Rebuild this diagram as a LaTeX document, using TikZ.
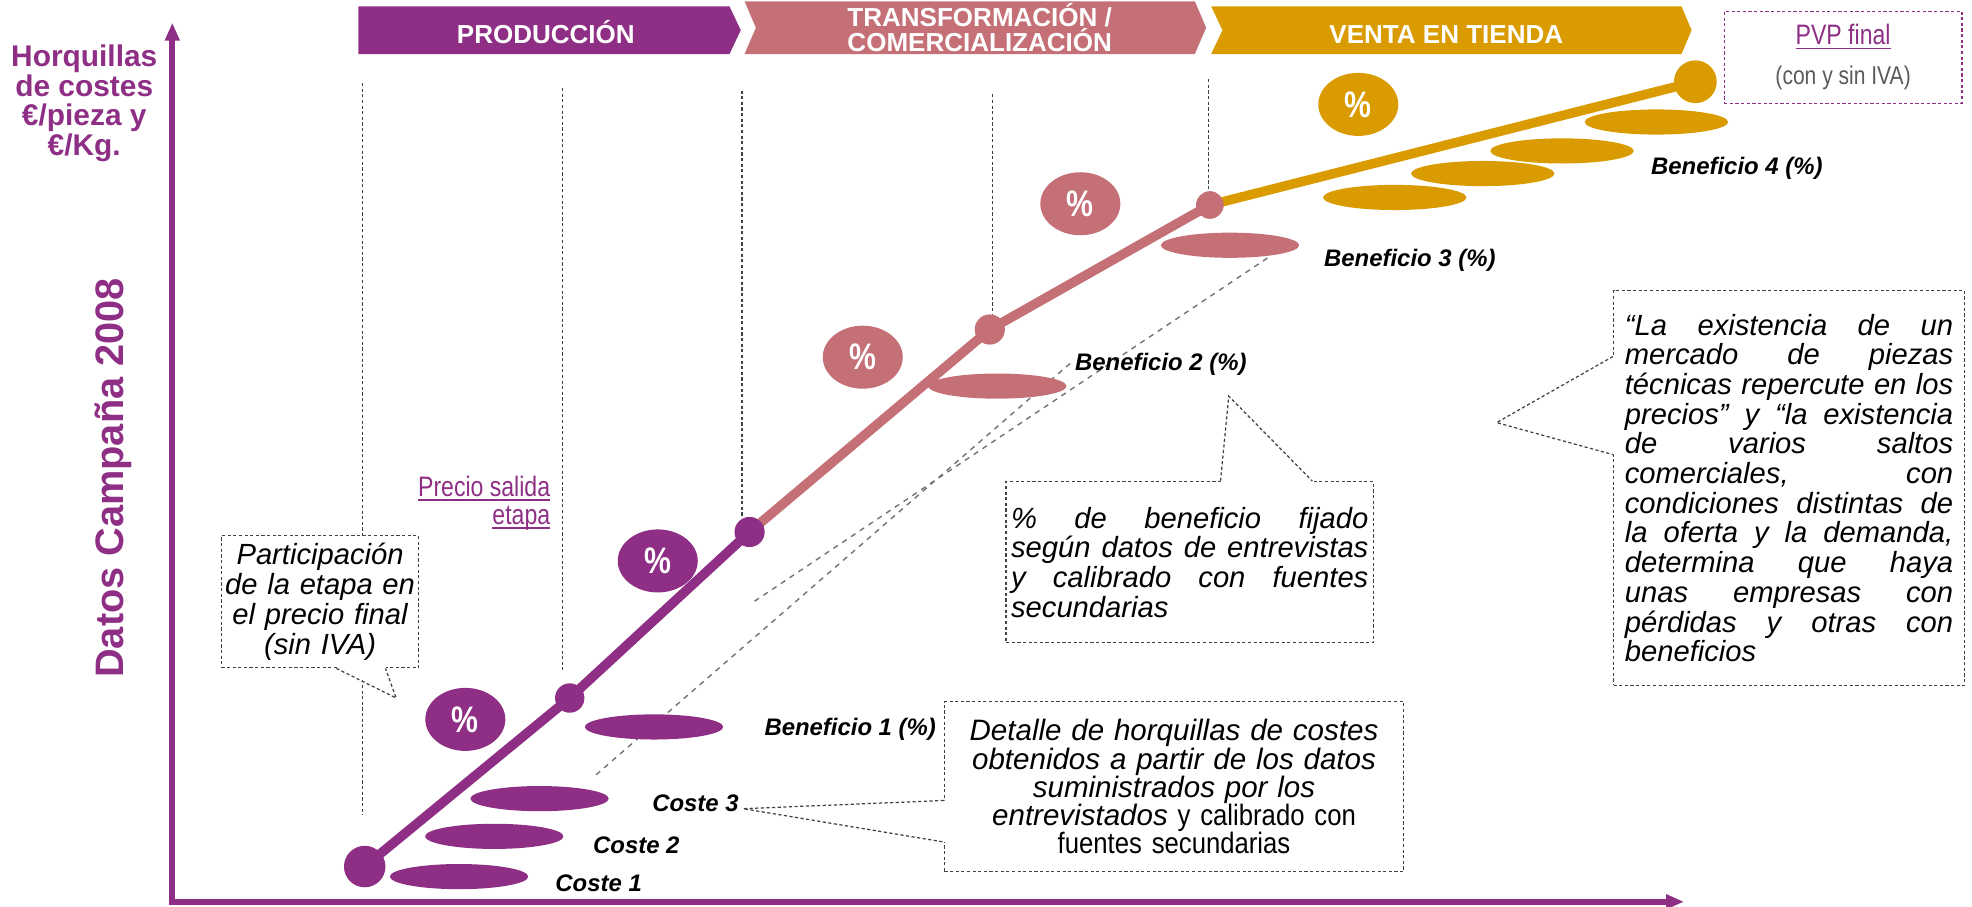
\documentclass[tikz,border=0pt]{standalone}
\usepackage{fontspec}
\setmainfont{Liberation Sans}
\newfontfamily\narrowfont[FakeStretch=0.82]{Liberation Sans}
\newfontfamily\semifont[FakeStretch=0.87]{Liberation Sans}
\usetikzlibrary{shapes.geometric,arrows.meta,calc}
\definecolor{purp}{HTML}{8E2F85}
\definecolor{rose}{HTML}{C47076}
\definecolor{gold}{HTML}{DA9B00}
\definecolor{txtgray}{HTML}{5A5A5A}
\newcommand{\undl}[1]{\setbox0\hbox{#1}\rlap{\rule[-1.3pt]{\wd0}{0.5pt}}\box0}

\begin{document}
\begin{tikzpicture}[x=0.012577cm, y=-0.012577cm,
    guide/.style={draw=black!75, dash pattern=on 0.9pt off 0.7pt, line width=0.35pt},
    trend/.style={draw=black!55, dash pattern=on 1.5pt off 1.5pt, line width=0.4pt},
    stage/.style={line width=2.7pt, line join=round},
    bar/.style={x radius=55, y radius=10},
    goldbar/.style={x radius=57, y radius=10},
    pct/.style={ellipse, minimum width=0.80cm, minimum height=0.63cm, inner sep=0pt, text=white, font=\narrowfont\bfseries\fontsize{10.5}{11}\selectfont},
    lbl/.style={inner sep=0pt, font=\bfseries\itshape\fontsize{6.8}{8}\selectfont},
    callout/.style={guide, fill=white, inner ysep=0pt, font=\itshape\fontsize{8.3}{8.45}\selectfont},
    stagetxt/.style={text=white, inner sep=0pt, align=center, font=\bfseries\fontsize{7.4}{7}\selectfont},
    axisline/.style={draw=purp, line width=1.7pt, {Triangle[length=0.18cm,width=0.14cm]}-{Triangle[length=0.18cm,width=0.14cm]}}
  ]
    \useasboundingbox (0,0) rectangle (1568,721);

    \foreach \gx/\gtop/\gbot in {288/66/648, 447/70/533, 590/72/410, 789/75/252, 961/63/152}
      \draw[guide] (\gx,\gtop) -- (\gx,\gbot);

    \coordinate (trendA0) at (474,616);
    \coordinate (trendA1) at (852,288);
    \coordinate (trendB0) at (600,478);
    \coordinate (trendB1) at (1011,203);
    \draw[trend] (trendA0) -- (trendA1);
    \draw[trend] (trendB0) -- (trendB1);

    \fill[purp] (365,697) ellipse[bar] (393,665) ellipse[bar] (429,635) ellipse[bar] (520,578) ellipse[bar];
    \fill[rose] (793,307) ellipse[bar] (978,195) ellipse[bar];
    \fill[gold] (1109,157) ellipse[goldbar] (1179,138) ellipse[goldbar] (1242,120) ellipse[goldbar] (1317,97) ellipse[goldbar];

    \coordinate (p0) at (290,689);
    \coordinate (p1) at (453,555);
    \coordinate (p2) at (596,423);
    \coordinate (p3) at (787,262);
    \coordinate (p4) at (962,163);
    \coordinate (p5) at (1348,65);
    \draw[stage, purp] (p0) -- (p1) -- (p2);
    \draw[stage, rose] (p2) -- (p3) -- (p4);
    \draw[stage, gold] (p4) -- (p5);
    \fill[purp] (p0) circle[radius=16.5] (p1) circle[radius=11.7] (p2) circle[radius=12];
    \fill[rose] (p3) circle[radius=12] (p4) circle[radius=11];
    \fill[gold] (p5) circle[radius=17];

    \node[pct, fill=purp] (pct1) at (370,572) {\%};
    \node[pct, fill=purp] (pct2) at (523,446) {\%};
    \node[pct, fill=rose] (pct3) at (686,284) {\%};
    \node[pct, fill=rose] (pct4) at (859,162) {\%};
    \node[pct, fill=gold] (pct5) at (1080,83) {\%};

    \node[lbl] (coste1) at (476,702) {Coste 1};
    \node[lbl] (coste2) at (506,672) {Coste 2};
    \node[lbl] (coste3) at (553,639) {Coste 3};
    \node[lbl] (benef1) at (676,580) {Beneficio 1 (\%)};
    \node[lbl] (benef2) at (923,290) {Beneficio 2 (\%)};
    \node[lbl] (benef3) at (1121,207) {Beneficio 3 (\%)};
    \node[lbl] (benef4) at (1381,134) {Beneficio 4 (\%)};

    \node[anchor=east, inner sep=0pt, align=right, text=purp, font=\narrowfont\fontsize{8}{7.9}\selectfont] (precio) at (438,400) {\undl{Precio salida}\\\undl{etapa}};

    \node[callout, text width=1.95cm, inner xsep=0.012cm, minimum height=1.3206cm, align=center] (partic) at (254.5,478.5) {Participación\\de la etapa en\\el precio final\\(sin IVA)};
    \coordinate (particTip) at (315,555);
    \fill[white] ($(partic.south west)+(92,-1.5)$) -- (particTip) -- ($(partic.south west)+(131,-1.5)$) -- cycle;
    \draw[guide] ($(partic.south west)+(92,0)$) -- (particTip) -- ($(partic.south west)+(131,0)$);

    \node[callout, text width=3.5719cm, inner xsep=0.0503cm, minimum height=1.6099cm, align=left] (fijado) at (946,447) {\%\hfill de\hfill beneficio\hfill fijado\\según\hfill datos\hfill de\hfill entrevistas\\y\hfill calibrado\hfill con\hfill fuentes\\secundarias};
    \coordinate (fijadoTip) at (977,315);
    \fill[white] ($(fijado.north west)+(171,1.5)$) -- (fijadoTip) -- ($(fijado.north west)+(244,1.5)$) -- cycle;
    \draw[guide] ($(fijado.north west)+(171,0)$) -- (fijadoTip) -- ($(fijado.north west)+(244,0)$);

    \node[callout, text width=3.2826cm, inner xsep=0.1132cm, minimum height=3.9492cm, align=left] (mercado) at (1422.5,388) {“La\hfill existencia\hfill de\hfill un\\mercado\hfill de\hfill piezas\\técnicas\hfill repercute\hfill en\hfill los\\precios”\hfill y\hfill “la\hfill existencia\\de\hfill varios\hfill saltos\\comerciales,\hfill con\\condiciones\hfill distintas\hfill de\\la\hfill oferta\hfill y\hfill la\hfill demanda,\\determina\hfill que\hfill haya\\unas\hfill empresas\hfill con\\pérdidas\hfill y\hfill otras\hfill con\\beneficios};
    \coordinate (mercadoTip) at (1190,336);
    \fill[white] ($(mercado.north west)+(1.5,53)$) -- (mercadoTip) -- ($(mercado.north west)+(1.5,131)$) -- cycle;
    \draw[guide] ($(mercado.north west)+(0,53)$) -- (mercadoTip) -- ($(mercado.north west)+(0,131)$);

    \node[callout, text width=4.49cm, inner xsep=0.0503cm, minimum height=1.6979cm, align=center, font=\itshape\fontsize{8.4}{8}\selectfont] (detalle) at (933.5,625.5) {Detalle de horquillas de costes\\obtenidos a partir de los datos\\suministrados por los\\entrevistados {\semifont\upshape y calibrado con}\\{\semifont\upshape fuentes secundarias}};
    \coordinate (detalleTip) at (591,643);
    \fill[white] ($(detalle.north west)+(1.5,79)$) -- (detalleTip) -- ($(detalle.north west)+(1.5,112)$) -- cycle;
    \draw[guide] ($(detalle.north west)+(0,79)$) -- (detalleTip) -- ($(detalle.north west)+(0,112)$);

    \fill[purp] (285,5) -- (580,5) -- (589,24) -- (580,43) -- (285,43) -- cycle;
    \fill[rose] (592,1) -- (950,1) -- (959,22) -- (950,43) -- (592,43) -- (601,22) -- cycle;
    \fill[gold] (963,5) -- (1337,5) -- (1345,24) -- (1337,43) -- (963,43) -- (972,24) -- cycle;
    \node[stagetxt, anchor=base] (produccion) at (434,34.5) {PRODUCCIÓN};
    \node[stagetxt] (transform) at (779,22) {TRANSFORMACIÓN /\\COMERCIALIZACIÓN};
    \node[stagetxt, anchor=base] (venta) at (1150,34.5) {VENTA EN TIENDA};

    \node[guide, draw=purp, fill=white, minimum width=2.3771cm, minimum height=0.9181cm, align=center, font=\narrowfont\fontsize{8}{11.4}\selectfont] (pvp) at (1465.5,45.5) {\textcolor{purp}{\undl{PVP final}}\\\textcolor{txtgray}{\fontsize{7.3}{11.4}\selectfont(con y sin IVA)}};

    \coordinate (ytip) at (137,18);
    \coordinate (origin) at (137,717);
    \coordinate (xtip) at (1339,717);
    \draw[axisline] (ytip) -- (origin) -- (xtip);

    \node[text=purp, align=center, inner sep=0pt, font=\bfseries\fontsize{8.5}{8.4}\selectfont] (ylabel) at (67,82) {Horquillas\\de costes\\€/pieza y\\€/Kg.};
    \node[rotate=90, anchor=base, inner sep=0pt, text=purp, font=\bfseries\fontsize{11.3}{12}\selectfont] (campaign) at (98,380) {Datos Campaña 2008};
  \end{tikzpicture}
\end{document}
